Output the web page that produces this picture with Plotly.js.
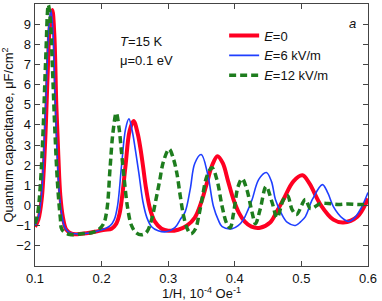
<!DOCTYPE html>
<html><head><meta charset="utf-8">
<script src="https://cdn.plot.ly/plotly-3.0.1.min.js"></script>
<style>html,body{margin:0;padding:0;background:#fff}#chart{width:382px;height:301px}</style>
</head><body><div id="chart"></div>
<script>
// E = 0
const xRed = [0.100,0.105,0.110,0.115,0.119,0.122,0.126,0.129,0.132,0.135,0.138,0.142,0.147,0.155,0.170,0.190,0.205,0.215,0.222,0.227,0.231,0.236,0.242,0.248,0.254,0.258,0.262,0.267,0.273,0.280,0.290,0.300,0.315,0.328,0.340,0.350,0.358,0.366,0.374,0.382,0.390,0.398,0.406,0.415,0.425,0.438,0.453,0.463,0.473,0.488,0.5015,0.512,0.5286,0.548,0.563,0.584,0.600];
const yRed = [-1.05,-0.7,0.3,3.0,6.5,8.8,9.7,8.5,5.0,2.5,0.5,-0.6,-1.2,-1.4,-1.4,-1.3,-1.2,-1.15,-0.9,-0.4,0.5,2.0,3.7,4.2,3.6,2.9,2.0,0.8,-0.2,-0.8,-1.15,-1.25,-1.2,-1.0,-0.6,0.2,1.1,2.0,2.45,2.1,1.2,0.3,-0.35,-0.8,-1.05,-1.1,-0.84,-0.3,0.3,1.2,1.5,1.1,0.05,-0.7,-0.84,-0.55,0.35];
// E = 6 kV/m
const xBlue = [0.100,0.105,0.110,0.114,0.118,0.121,0.124,0.127,0.130,0.133,0.136,0.140,0.145,0.152,0.170,0.190,0.205,0.213,0.219,0.224,0.230,0.236,0.241,0.246,0.251,0.256,0.262,0.268,0.275,0.285,0.297,0.310,0.318,0.3256,0.333,0.340,0.3496,0.359,0.368,0.375,0.381,0.396,0.405,0.413,0.420,0.426,0.436,0.4474,0.455,0.461,0.470,0.479,0.491,0.499,0.506,0.5165,0.5316,0.540,0.548,0.562,0.571,0.580,0.590,0.600];
const yBlue = [-1.0,-0.6,0.6,3.2,6.8,9.0,9.7,8.6,5.5,2.8,0.8,-0.4,-1.1,-1.35,-1.4,-1.3,-1.15,-1.0,-0.7,0.0,2.0,3.8,4.3,3.7,2.7,1.6,0.2,-0.6,-1.05,-1.25,-1.3,-1.1,-0.7,-0.3,0.8,2.1,2.53,1.6,-0.05,-0.7,-1.05,-1.15,-1.0,-0.7,-0.2,0.3,1.3,1.64,1.2,0.3,-0.4,-0.84,-0.99,-0.8,-0.55,0.3,1.04,0.6,-0.05,-0.64,-0.79,-0.6,-0.1,0.65];
// E = 12 kV/m
const xGreen = [0.100,0.104,0.108,0.112,0.116,0.120,0.123,0.126,0.130,0.134,0.138,0.1406,0.1526,0.170,0.185,0.195,0.203,0.208,0.2128,0.217,0.222,0.226,0.230,0.234,0.239,0.245,0.252,0.260,0.268,0.275,0.281,0.287,0.293,0.3015,0.308,0.313,0.318,0.323,0.328,0.334,0.341,0.346,0.351,0.358,0.3657,0.373,0.381,0.388,0.393,0.398,0.405,0.411,0.418,0.426,0.431,0.438,0.447,0.456,0.4635,0.473,0.479,0.486,0.4925,0.506,0.5135,0.5286,0.540,0.555,0.570,0.585,0.600];
const yGreen = [-0.9,-0.4,1.0,3.6,7.2,9.95,9.2,7.0,3.6,1.0,-0.6,-1.2,-1.44,-1.4,-1.35,-1.2,-0.9,-0.2,1.9,3.6,4.6,3.9,2.6,1.3,-0.1,-1.0,-1.35,-1.45,-1.3,-0.7,0.2,1.2,2.2,2.8,2.3,1.6,0.5,-0.5,-1.1,-1.4,-1.15,-0.5,0.35,1.45,1.88,1.3,-0.05,-0.9,-1.1,-0.4,0.95,1.33,0.8,-0.35,-0.9,-0.2,0.94,0.15,-0.6,0.3,0.5,-0.2,-0.45,0.3,-0.15,0.1,0.1,0.05,0.08,0.05,0.05];

const names = ['<i>E</i>=0','<i>E</i>=6 kV/m','<i>E</i>=12 kV/m'];
const xTicks = [0.1,0.2,0.3,0.4,0.5,0.6];
const xTickText = ['0.1','0.2','0.3','0.4','0.5','0.6'];
const yTicks = [-2,-1,0,1,2,3,4,5,6,7,8,9];

const FONT = 'Liberation Sans, Arial, sans-serif';
const traces = [
  {x:xRed,y:yRed,name:names[0],mode:'lines',line:{color:'#ff0022',width:4,shape:'spline',smoothing:1}},
  {x:xBlue,y:yBlue,name:names[1],mode:'lines',line:{color:'#1f3fff',width:1.6,shape:'spline',smoothing:1}},
  {x:xGreen,y:yGreen,name:names[2],mode:'lines',line:{color:'#1e7d1e',width:3.5,dash:'7px,4px',shape:'spline',smoothing:1}}
];
const axCommon = {showline:true,linecolor:'#444',linewidth:1.3,mirror:'ticks',ticks:'inside',ticklen:5,tickwidth:1,tickcolor:'#444',showgrid:false,zeroline:false,tickfont:{family:FONT,size:13,color:'#111'}};
const layout = {
  width:382,height:301,
  margin:{l:35,r:14,t:4,b:35},
  paper_bgcolor:'#fff',plot_bgcolor:'#fff',
  font:{family:FONT,size:13,color:'#111'},
  xaxis:Object.assign({},axCommon,{range:[0.1,0.6],tickmode:'array',tickvals:xTicks,ticktext:xTickText,
    title:{text:'1/H, 10<sup>-4</sup> Oe<sup>-1</sup>',font:{family:FONT,size:13,color:'#111'},standoff:0}}),
  yaxis:Object.assign({},axCommon,{range:[-3,10],tickmode:'array',tickvals:yTicks,
    title:{text:'Quantum capacitance, μF/cm<sup>2</sup>',font:{family:FONT,size:13,color:'#111'},standoff:4}}),
  showlegend:true,
  legend:{x:0.568,y:0.937,xanchor:'left',yanchor:'top',bgcolor:'rgba(0,0,0,0)',font:{family:FONT,size:13,color:'#111'},tracegroupgap:0},
  annotations:[
    {xref:'paper',yref:'paper',x:0.249,y:0.855,xanchor:'left',yanchor:'middle',text:'<i>T</i>=15 K',showarrow:false,font:{family:FONT,size:13,color:'#111'}},
    {xref:'paper',yref:'paper',x:0.249,y:0.786,xanchor:'left',yanchor:'middle',text:'μ=0.1 eV',showarrow:false,font:{family:FONT,size:13,color:'#111'}},
    {xref:'paper',yref:'paper',x:0.952,y:0.924,xanchor:'center',yanchor:'middle',text:'<i>a</i>',showarrow:false,font:{family:FONT,size:13,color:'#111'}}
  ]
};
Plotly.newPlot('chart',traces,layout,{displayModeBar:false,staticPlot:true});
</script></body></html>
